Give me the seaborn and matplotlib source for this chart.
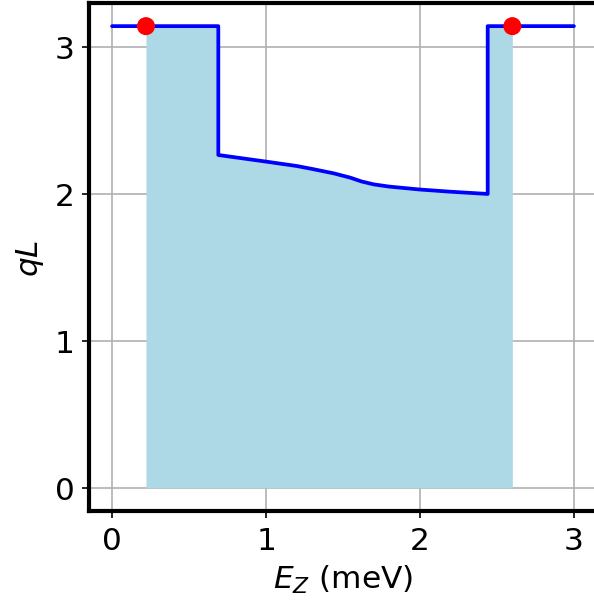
import numpy as np
import pandas as pd
import seaborn as sns
import matplotlib.pyplot as plt

# qL vs Zeeman energy
ez = [0.0, 0.69, 0.69, 1.0, 1.2, 1.3, 1.44, 1.55, 1.62, 1.7, 1.8, 2.0, 2.2, 2.44, 2.44, 3.0]
ql = [np.pi, np.pi, 2.265, 2.22, 2.19, 2.17, 2.14, 2.11, 2.085, 2.065, 2.05, 2.03, 2.015, 2.0, np.pi, np.pi]

# topological region bounds (red dots)
ez_bounds = [0.22, 2.6]
ql_bounds = [np.pi, np.pi]

sns.set_theme(style="ticks", rc={"text.color": "black", "axes.labelcolor": "black",
                                 "xtick.color": "black", "ytick.color": "black"})
plt.rcParams["font.family"] = ["DejaVu Sans"]
plt.rcParams["mathtext.fontset"] = "dejavusans"

df = pd.DataFrame({"Ez": ez, "qL": ql})

fig = plt.figure(figsize=(3.96, 4.053), dpi=150)
ax = fig.add_axes([89 / 594, 96 / 608, 508 / 594, 508 / 608])

# shaded region under the curve between the bounds
xs = np.concatenate([[ez_bounds[0]], [x for x in ez if ez_bounds[0] < x < ez_bounds[1]], [ez_bounds[1]]])
ys = np.concatenate([[np.pi], [y for x, y in zip(ez, ql) if ez_bounds[0] < x < ez_bounds[1]], [np.pi]])
ax.fill_between(xs, 0, ys, color="lightblue", linewidth=0, zorder=1)

sns.lineplot(data=df, x="Ez", y="qL", sort=False, estimator=None, color="blue", linewidth=1.8, ax=ax, zorder=3)
sns.scatterplot(x=ez_bounds, y=ql_bounds, color="red", s=75, edgecolor="none", ax=ax, zorder=4)

ax.grid(True, color="#b0b0b0", linewidth=0.8)
ax.set_axisbelow(True)
for sp in ax.spines.values():
    sp.set_linewidth(2)
    sp.set_color("black")

ax.set_xticks([0, 1, 2, 3])
ax.set_yticks([0, 1, 2, 3])
ax.tick_params(labelsize=15, length=3.5, width=0.8)
ax.set_xlabel("$E_Z$ (meV)", fontsize=15)
ax.set_ylabel("$qL$", fontsize=15)

fig.savefig("out.png", dpi=150)
